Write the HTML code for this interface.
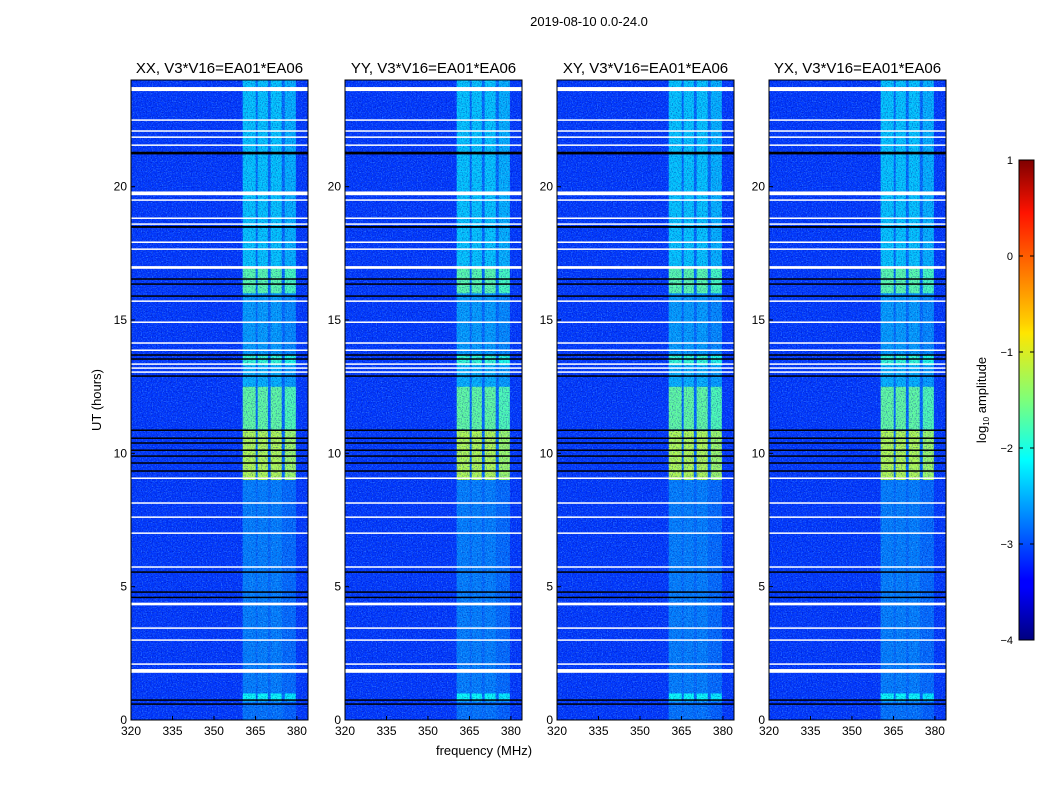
<!DOCTYPE html>
<html><head><meta charset="utf-8">
<style>
body{margin:0;background:#fff;font-family:"Liberation Sans","DejaVu Sans",sans-serif;}
svg text{font-family:"Liberation Sans","DejaVu Sans",sans-serif;}
</style></head>
<body>
<svg id="chart" width="1050" height="800" xmlns="http://www.w3.org/2000/svg">
<defs>
<filter id="noiseDark" x="0" y="0" width="100%" height="100%">
<feTurbulence type="fractalNoise" baseFrequency="0.8" numOctaves="1" seed="3"/>
<feColorMatrix type="matrix" values="0 0 0 0 0  0 0 0 0 0  0 0 0 0 0.3  2.2 0 0 0 -1.0"/>
</filter>
<filter id="noiseLight" x="0" y="0" width="100%" height="100%">
<feTurbulence type="fractalNoise" baseFrequency="0.8" numOctaves="1" seed="11"/>
<feColorMatrix type="matrix" values="0 0 0 0 0.15  0 0 0 0 0.6  0 0 0 0 1  2.2 0 0 0 -1.05"/>
</filter>
<linearGradient id="jet" x1="0" y1="1" x2="0" y2="0">
<stop offset="0" stop-color="#00007f"/><stop offset="0.11" stop-color="#0000ff"/>
<stop offset="0.125" stop-color="#0000ff"/><stop offset="0.34" stop-color="#00dbff"/>
<stop offset="0.375" stop-color="#0ff"/><stop offset="0.5" stop-color="#7dff7a"/>
<stop offset="0.64" stop-color="#ffe600"/><stop offset="0.66" stop-color="#ffd000"/>
<stop offset="0.89" stop-color="#ff1300"/><stop offset="1" stop-color="#7f0000"/>
</linearGradient>
</defs>
<text x="589" y="26" font-size="13" text-anchor="middle">2019-08-10 0.0-24.0</text>
<text x="484" y="755" font-size="13" text-anchor="middle">frequency (MHz)</text>
<text x="101" y="400" font-size="13" text-anchor="middle" transform="rotate(-90 101 400)">UT (hours)</text>
<g id="panels"></g>
<g id="cbar"></g>
</svg>
<script>
const panelTitles = ["XX, V3*V16=EA01*EA06","YY, V3*V16=EA01*EA06","XY, V3*V16=EA01*EA06","YX, V3*V16=EA01*EA06"];
const panelLefts = [131,345,557,769];
const freqTicks = [320,335,350,365,380];
const timeTicks = [0,5,10,15,20];
const whiteLines = [[23.66,0.15],[22.5,0.05],[22.09,0.05],[21.86,0.05],[21.56,0.05],[19.75,0.14],[19.5,0.05],[18.82,0.05],[18.6,0.05],[17.92,0.05],[17.66,0.05],[16.97,0.1],[15.71,0.05],[14.92,0.05],[14.14,0.05],[13.87,0.05],[13.35,0.05],[13.2,0.05],[13.05,0.05],[9.07,0.05],[8.14,0.05],[7.61,0.05],[7.01,0.05],[5.74,0.05],[4.35,0.1],[3.45,0.05],[3.0,0.05],[2.1,0.05],[1.84,0.14]];
const blackLines = [[21.26,0.1],[18.49,0.07],[16.54,0.05],[16.35,0.05],[15.9,0.05],[13.69,0.05],[13.54,0.05],[12.9,0.05],[10.87,0.05],[10.57,0.05],[10.39,0.05],[10.12,0.05],[9.9,0.05],[9.64,0.05],[9.34,0.05],[5.55,0.05],[4.8,0.05],[4.6,0.05],[0.75,0.05],[0.6,0.05]];
const channels = [[360.4,365.1],[365.8,369.5],[370.5,374.5],[375.6,379.6]];
const bandStarts = [0,0.7,1,9,10.9,12.5,13.3,13.7,16,17];
const bandEnds =   [0.7,1,9,10.9,12.5,13.3,13.7,16,17,24];
const bandLevels = [-2.8,-2.1,-2.75,-1.25,-1.65,-2.5,-1.9,-2.6,-1.7,-2.4];
const bgLevel = -3.1;

const ns="http://www.w3.org/2000/svg";
const PW=177, Y0=80, Y1=720;
const fx=(f,l)=>l+(f-320)/64*PW;
const ty=t=>Y1-(t/24)*(Y1-Y0);
function jet(v){
  let x=(v+4)/5;
  const r=Math.min(1,Math.max(0,Math.min(4*x-1.5,-4*x+4.5)));
  const g=Math.min(1,Math.max(0,Math.min(4*x-0.5,-4*x+3.5)));
  const b=Math.min(1,Math.max(0,Math.min(4*x+0.5,-4*x+2.5)));
  return `rgb(${Math.round(r*255)},${Math.round(g*255)},${Math.round(b*255)})`;
}
function el(tag,attrs,parent){const e=document.createElementNS(ns,tag);for(const k in attrs)e.setAttribute(k,attrs[k]);parent.appendChild(e);return e;}
const panels=document.getElementById('panels');
panelLefts.forEach((L,pi)=>{
  const g=el('g',{},panels);
  
  
  const bg=el('rect',{x:L,y:Y0,width:PW,height:Y1-Y0,fill:jet(bgLevel)},g);
  
  
  const gap=el('rect',{x:fx(channels[0][0],L),y:Y0,width:fx(channels[3][1],L)-fx(channels[0][0],L),height:Y1-Y0,fill:jet(-2.85)},g);
  
  
  channels.forEach((c,ci)=>{
    bandStarts.forEach((s,si)=>{
      const r=el('rect',{x:fx(c[0],L),y:ty(bandEnds[si]),width:fx(c[1],L)-fx(c[0],L),height:ty(s)-ty(bandEnds[si]),fill:jet(bandLevels[si]-(ci===3?0.1:0))},g);
      
      
    });
  });
  el('rect',{x:L,y:Y0,width:PW,height:Y1-Y0,filter:'url(#noiseLight)',opacity:0.6},g);
  el('rect',{x:L,y:Y0,width:PW,height:Y1-Y0,filter:'url(#noiseDark)',opacity:0.6},g);
  blackLines.forEach(b=>{
    const r=el('rect',{x:L,y:ty(b[0]+b[1]/2),width:PW,height:Math.max(1.5,b[1]*26.67),fill:'#000'},g);
    
    
  });
  whiteLines.forEach(w=>{
    const r=el('rect',{x:L,y:ty(w[0]+w[1]/2),width:PW,height:Math.max(1.5,w[1]*26.67),fill:'#fff'},g);
    
    
  });
  const fr=el('rect',{x:L,y:Y0,width:PW,height:Y1-Y0,fill:'none',stroke:'#000','stroke-width':1},g);
  
  
  const t=el('text',{x:L+PW/2,y:73,'font-size':15,'text-anchor':'middle'},g);
  t.textContent=panelTitles[pi];
  
  
  freqTicks.forEach(f=>{
    const x=fx(f,L);
    el('line',{x1:x,x2:x,y1:Y1,y2:Y1-4,stroke:'#000'},g);
    const tx=el('text',{x:x,y:Y1+15,'font-size':12,'text-anchor':'middle'},g);
    tx.textContent=f;
    
    
  });
  timeTicks.forEach(v=>{
    const y=ty(v);
    el('line',{x1:L,x2:L+4,y1:y,y2:y,stroke:'#000'},g);
    const tx=el('text',{x:L-4,y:y+4,'font-size':12,'text-anchor':'end'},g);
    tx.textContent=v;
    
    
  });
});
const cbTicks=[1,0,-1,-2,-3,-4];
const cb=document.getElementById('cbar');
const CX=1019,CW=15,CY0=160,CY1=640;
const cbr=el('rect',{x:CX,y:CY0,width:CW,height:CY1-CY0,fill:'url(#jet)',stroke:'#000'},cb);


cbTicks.forEach(v=>{
  const y=CY1-(v+4)/5*(CY1-CY0);
  el('line',{x1:CX,x2:CX+4,y1:y,y2:y,stroke:'#000'},cb);
  el('line',{x1:CX+CW-4,x2:CX+CW,y1:y,y2:y,stroke:'#000'},cb);
  const t=el('text',{x:CX-6,y:y+4,'font-size':11,'text-anchor':'end'},cb);
  t.textContent=v<0?'\u2212'+(-v):String(v);
  
  
});
const cl=el('text',{x:986,y:400,'font-size':13,'text-anchor':'middle',transform:'rotate(-90 986 400)'},cb);
cl.innerHTML='log<tspan font-size="8" dy="3">10</tspan><tspan dy="-3"> amplitude</tspan>';


</script>
</body></html>
